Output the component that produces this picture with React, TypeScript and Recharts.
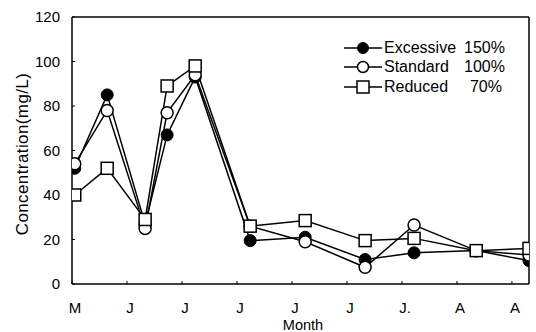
import React from 'react';
import { LineChart, Line, XAxis, YAxis, Legend, ReferenceLine } from 'recharts';

const xPositions = [0.05, 0.64, 1.33, 1.73, 2.24, 3.24, 4.24, 5.33, 6.22, 7.35, 8.31];
const excessive = [52, 85, 27, 67, 93, 19.5, 21, 11, 14, 15, 10.5];
const standard = [54, 78, 25, 77, 94, 26, 19, 7.5, 26.5, 15, 13];
const reduced = [40, 52, 29, 89, 98, 26, 28.5, 19.5, 20.5, 15, 16];
const monthTicks = [0, 1, 2, 3, 4, 5, 6, 7, 8];
const monthLabels = ['M', 'J', 'J', 'J', 'J', 'J', 'J.', 'A', 'A'];
const yTicks = [0, 20, 40, 60, 80, 100, 120];
const X_MAX = 8.31;

const legendItems = [
  { key: 'excessive', name: 'Excessive', pct: '150%', shape: 'filled' },
  { key: 'standard', name: 'Standard', pct: '100%', shape: 'open' },
  { key: 'reduced', name: 'Reduced', pct: '70%', shape: 'square' },
];

const data = xPositions.map((x, i) => ({
  x,
  excessive: excessive[i],
  standard: standard[i],
  reduced: reduced[i],
}));

const FONT = '"Liberation Sans", Arial, Helvetica, sans-serif';

const SquareDot = (props: any) => {
  const { cx, cy, index } = props;
  if (cx == null || cy == null) return null;
  return <rect key={`sq-${index}`} x={cx - 6} y={cy - 6} width={12} height={12} fill="#fff" stroke="#000" strokeWidth={1.5} />;
};

const LegendSymbol = ({ shape }: { shape: string }) => (
  <svg width={38} height={16} style={{ display: 'block' }}>
    <line x1={0} y1={8} x2={38} y2={8} stroke="#000" strokeWidth={1.5} />
    {shape === 'filled' && <circle cx={19} cy={8} r={5.5} fill="#000" stroke="#000" />}
    {shape === 'open' && <circle cx={19} cy={8} r={5.5} fill="#fff" stroke="#000" strokeWidth={1.5} />}
    {shape === 'square' && <rect x={13} y={2} width={12} height={12} fill="#fff" stroke="#000" strokeWidth={1.5} />}
  </svg>
);

const LegendContent = () => (
  <div style={{ fontFamily: FONT, fontSize: 16, color: '#000' }}>
    {legendItems.map((it) => (
      <div key={it.key} style={{ display: 'flex', alignItems: 'center', height: 19.5 }}>
        <LegendSymbol shape={it.shape} />
        <span style={{ marginLeft: 2, width: 80, display: 'inline-block' }}>{it.name}</span>
        <span style={{ width: 38, textAlign: 'right', display: 'inline-block' }}>{it.pct}</span>
      </div>
    ))}
  </div>
);

export default function App() {
  return (
    <div style={{ position: 'absolute', left: 0, top: 0, width: 536, height: 332, background: '#fff' }}>
      <LineChart width={536} height={332} data={data} margin={{ top: 17, right: 7, left: 12, bottom: 0 }}>
        <XAxis
          dataKey="x"
          type="number"
          domain={[0, X_MAX]}
          ticks={monthTicks}
          tickFormatter={(v: number) => monthLabels[v] ?? ''}
          height={48}
          tickSize={-3}
          tickMargin={21}
          interval={0}
          allowDataOverflow
          axisLine={{ stroke: '#000', strokeWidth: 1.5 }}
          tickLine={{ stroke: '#000' }}
          tick={{ fill: '#000', fontSize: 15, fontFamily: FONT, dx: 3 }}
          label={(p: any) => (
            <text x={303} y={330} textAnchor="middle" fontSize={14.5} fontFamily={FONT} fill="#000">Month</text>
          )}
        />
        <YAxis
          domain={[0, 120]}
          ticks={yTicks}
          width={60}
          tickSize={-3}
          tickMargin={15}
          axisLine={{ stroke: '#000', strokeWidth: 1.5 }}
          tickLine={{ stroke: '#000' }}
          tick={{ fill: '#000', fontSize: 15, fontFamily: FONT }}
          label={(p: any) => (
            <text x={28} y={154} transform="rotate(-90 28 154)" textAnchor="middle" fontSize={17} letterSpacing={0.4} fontFamily={FONT} fill="#000">Concentration(mg/L)</text>
          )}
        />
        <ReferenceLine y={120} stroke="#000" strokeWidth={1.5} ifOverflow="visible" />
        <ReferenceLine x={X_MAX} stroke="#000" strokeWidth={1.5} ifOverflow="visible" />
        <Legend
          layout="horizontal"
          verticalAlign="middle"
          align="center"
          content={<LegendContent />}
          wrapperStyle={{ position: 'absolute', left: 344, top: 38, width: 170 }}
        />
        <Line dataKey="excessive" name="Excessive 150%" stroke="#000" strokeWidth={1.5} isAnimationActive={false}
          dot={{ r: 6, fill: '#000', stroke: '#000', strokeWidth: 1 }} />
        <Line dataKey="standard" name="Standard 100%" stroke="#000" strokeWidth={1.5} isAnimationActive={false}
          dot={{ r: 6, fill: '#fff', stroke: '#000', strokeWidth: 1.5 }} />
        <Line dataKey="reduced" name="Reduced 70%" stroke="#000" strokeWidth={1.5} isAnimationActive={false}
          dot={<SquareDot />} />
      </LineChart>
    </div>
  );
}
